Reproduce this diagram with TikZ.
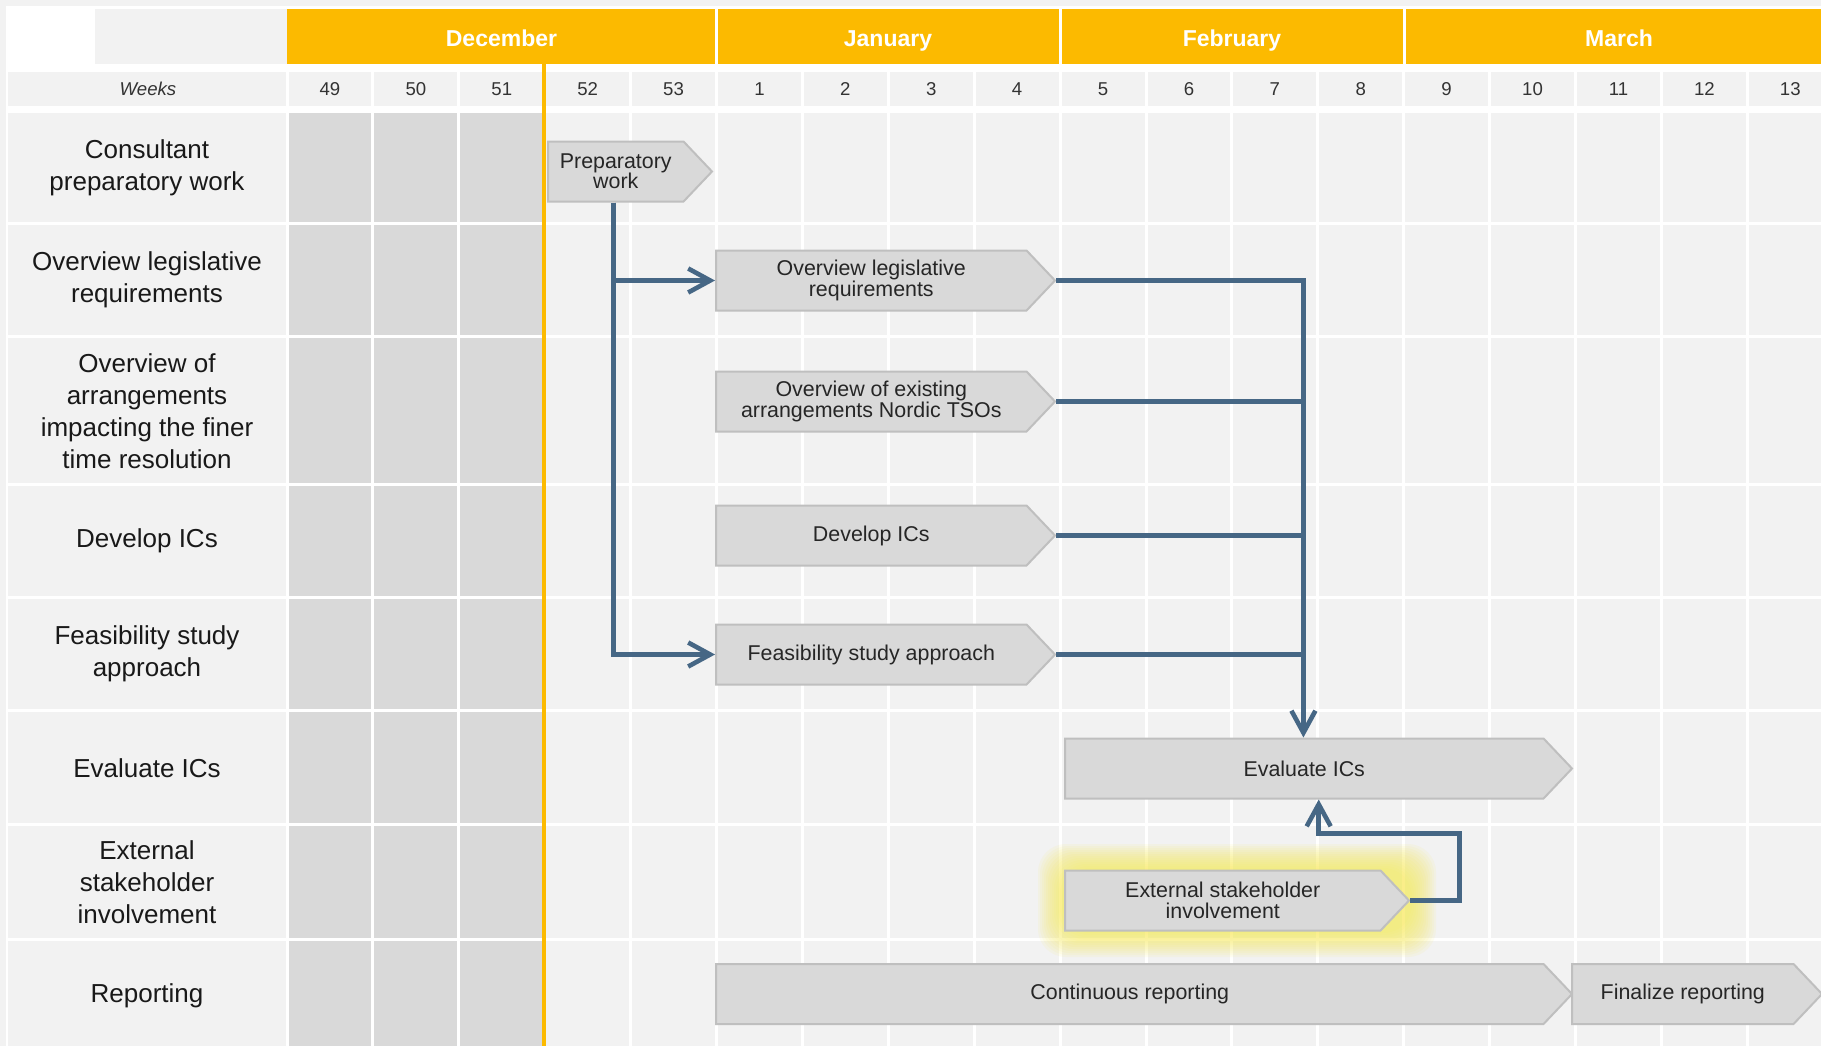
\documentclass[tikz,border=0pt]{standalone}
\usepackage{fontspec}
\setmainfont{Liberation Sans}
\usetikzlibrary{arrows.meta,shapes.symbols,calc}
\definecolor{cellgrey}{RGB}{242,242,242}
\definecolor{pastgrey}{RGB}{217,217,217}
\definecolor{monthorange}{RGB}{252,186,0}
\definecolor{barfill}{RGB}{217,217,217}
\definecolor{barline}{RGB}{191,191,191}
\definecolor{linkblue}{RGB}{70,103,133}
\definecolor{glowyellow}{RGB}{250,236,90}
\newcommand\labelfont{\fontsize{13}{16}\selectfont}
\newcommand\barfont{\fontsize{10.7}{10.2}\selectfont}
\newcommand\weekfont{\fontsize{9.3}{11}\selectfont}
\newcommand\monthfont{\fontsize{11.5}{13}\selectfont\bfseries}
\tikzset{
  bar/.style={shape=signal, signal to=east, signal pointer angle=93, fill=barfill,
    draw=barline, line width=1pt, minimum height=30pt, inner sep=0pt, anchor=west,
    align=center, font=\barfont, text=black!85},
  rowtext/.style={align=center, font=\labelfont, text=black!90},
  weektext/.style={font=\weekfont, text=black!80},
  monthtext/.style={font=\monthfont, text=white, anchor=base},
  link/.style={draw=linkblue, line width=2.3pt},
  arrowlink/.style={link, -{Straight Barb[length=11pt,width=12pt]}},
  whiteline/.style={white, line width=1.5pt},
}
\begin{document}
\begin{tikzpicture}[x=0.5pt,y=-0.5pt]
  \fill[cellgrey] (0,0) rectangle (1821,1046);
  \useasboundingbox (0,0) rectangle (1821,1046);

  \fill[white] (6,7) rectangle (95,64);
  \fill[monthorange] (287,7) rectangle (1821,64);
  \draw[whiteline] (6,7) -- (1821,7);
  \foreach \x in {716,1060,1404}
    \draw[whiteline] (\x,7) -- (\x,64);
  \fill[white] (6,64) rectangle (1821,72);
  \fill[white] (6,106) rectangle (1821,113);
  \fill[white] (6,7) rectangle (8,1046);

  \fill[pastgrey] (287,113) rectangle (544,1046);
  \foreach \k in {0,...,17}
    \draw[whiteline] ({287+85.9*\k},72) -- ({287+85.9*\k},1046);
  \foreach \y in {223.5,336.5,484,597,710.5,824,939}
    \draw[whiteline] (8,\y) -- (1821,\y);
  \draw[monthorange, line width=2pt] (544,64) -- (544,1046);

  \node[monthtext] (dec) at (501.5,46) {December};
  \node[monthtext] (jan) at (888,46) {January};
  \node[monthtext] (feb) at (1232,46) {February};
  \node[monthtext] (mar) at (1619,46) {March};

  \node[weektext, font=\weekfont\itshape] (weeks) at (148,89) {Weeks};
  \foreach \w [count=\k from 0] in {49,50,51,52,53,1,2,3,4,5,6,7,8,9,10,11,12,13}
    \node[weektext] (w\w) at ({287+85.9*(\k+0.5)},89) {\w};

  \node[rowtext] (r1) at (147,168) {Consultant\\preparatory work};
  \node[rowtext] (r2) at (147,280) {Overview legislative\\requirements};
  \node[rowtext] (r3) at (147,411) {Overview of\\arrangements\\impacting the finer\\time resolution};
  \node[rowtext] (r4) at (147,541) {Develop ICs};
  \node[rowtext] (r5) at (147,654) {Feasibility study\\approach};
  \node[rowtext] (r6) at (147,768) {Evaluate ICs};
  \node[rowtext] (r7) at (147,882) {External\\stakeholder\\involvement};
  \node[rowtext] (r8) at (147,996) {Reporting};

  \foreach \g in {1,...,13}
    \fill[glowyellow, opacity=0.085, rounded corners=14pt]
      ({1064-2*\g},{870-2*\g}) rectangle ({1410+2*\g},{931+2*\g});

  \node[bar, minimum width=82pt] (prep) at (547,171.5) {Preparatory\\work};
  \node[bar, minimum width=169.5pt] (legis) at (715,280.5) {Overview legislative\\requirements};
  \node[bar, minimum width=169.5pt] (arrang) at (715,401.5) {Overview of existing\\arrangements Nordic TSOs};
  \node[bar, minimum width=169.5pt] (dev) at (715,535.5) {Develop ICs};
  \node[bar, minimum width=169.5pt] (feas) at (715,654.5) {Feasibility study approach};
  \node[bar, minimum width=253.5pt] (eval) at (1064,768.5) {Evaluate ICs};
  \node[bar, minimum width=172pt] (ext) at (1064,900.5) {External stakeholder\\involvement};
  \node[bar, minimum width=428pt] (cont) at (715,994) {Continuous reporting};
  \node[bar, minimum width=125pt] (final) at (1571,994) {Finalize reporting};

  \coordinate (fork) at ($(prep.west)!0.4!(prep.east)$);
  \draw[arrowlink] (fork |- prep.south) |- (legis.west);
  \draw[arrowlink] (fork |- prep.south) |- (feas.west);

  \coordinate (bus) at ($(eval.west)!0.47!(eval.east)$);
  \draw[arrowlink] (legis.east) -| (bus |- eval.north);
  \draw[link] (arrang.east) -- (arrang.east -| bus);
  \draw[link] (dev.east) -- (dev.east -| bus);
  \draw[link] (feas.east) -- (feas.east -| bus);

  \coordinate (loop) at ($(ext.east)+(49,-67)$);
  \coordinate (evalin) at ($(eval.west)!0.5!(eval.east)$);
  \draw[arrowlink] (ext.east) -| (loop) -| (evalin |- eval.south);
\end{tikzpicture}
\end{document}
